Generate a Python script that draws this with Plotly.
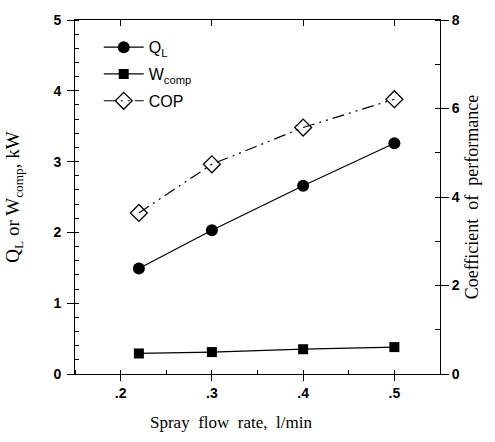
import plotly.graph_objects as go

flow_rate = [0.22, 0.3, 0.4, 0.5]
q_l = [1.49, 2.03, 2.66, 3.26]
w_comp = [0.29, 0.31, 0.35, 0.38]
cop = [3.64, 4.74, 5.57, 6.21]

x_tickvals = [0.2, 0.3, 0.4, 0.5]
x_ticktext = ['.2', '.3', '.4', '.5']

serif = "Liberation Serif, Times New Roman, serif"
sans = "Liberation Sans, Arial, sans-serif"

fig = go.Figure()
fig.add_trace(go.Scatter(
    x=flow_rate, y=q_l, name="Q<sub>L</sub>", mode="lines+markers",
    line=dict(color="black", width=1.2),
    marker=dict(symbol="circle", size=12, color="black"),
    legendgroup="a"))
fig.add_trace(go.Scatter(
    x=flow_rate, y=w_comp, name="W<sub>comp</sub>", mode="lines+markers",
    line=dict(color="black", width=1.2),
    marker=dict(symbol="square", size=10, color="black"),
    legendgroup="b"))
fig.add_trace(go.Scatter(
    x=flow_rate, y=cop, name="COP", mode="lines+markers", yaxis="y2",
    line=dict(color="black", width=1.2, dash="12px,5px,2px,5px,2px,5px"),
    marker=dict(symbol="diamond-open", size=13, color="black", line=dict(width=1.3)),
    legendgroup="c"))
# empty helper trace so the top mirrored axis is drawn
fig.add_trace(go.Scatter(x=[None], y=[None], xaxis="x2", showlegend=False, hoverinfo="skip"))

fig.update_layout(
    width=495, height=442,
    margin=dict(l=72, r=55, t=19, b=68),
    paper_bgcolor="white", plot_bgcolor="white",
    showlegend=True,
    legend=dict(x=0.065, y=0.971, xanchor="left", yanchor="top",
                font=dict(family=sans, size=16, color="black"),
                itemwidth=40,
                bgcolor="rgba(0,0,0,0)", traceorder="grouped", tracegroupgap=3),
    xaxis=dict(range=[0.15, 0.55], tickvals=x_tickvals, ticktext=x_ticktext,
               ticks="outside", ticklen=6, tickcolor="black",
               minor=dict(dtick=0.05, tick0=0.2, ticks="inside", ticklen=4, tickcolor="black"),
               showline=True, linecolor="black", linewidth=1, showgrid=False, zeroline=False,
               tickfont=dict(family=sans, size=14, color="black", weight="bold")),
    xaxis2=dict(range=[0.15, 0.55], overlaying="x", side="top", anchor="y",
                tickvals=x_tickvals, ticks="inside", ticklen=6, tickcolor="black",
                showticklabels=False, showline=True, linecolor="black", linewidth=1,
                showgrid=False, zeroline=False),
    yaxis=dict(range=[0, 5], dtick=1, ticks="outside", ticklen=7, tickcolor="black",
               minor=dict(dtick=0.2, ticks="inside", ticklen=4, tickcolor="black"),
               showline=True, linecolor="black", linewidth=1, showgrid=False, zeroline=False,
               ticklabelstandoff=3,
               tickfont=dict(family=sans, size=14, color="black", weight="bold"),
               title=dict(text="Q<sub>L</sub> or W<sub>comp</sub>, kW", font=dict(family=serif, size=19, color="black"), standoff=28)),
    yaxis2=dict(range=[0, 8], dtick=2, overlaying="y", side="right", anchor="x",
                ticks="outside", ticklen=8, tickcolor="black",
                minor=dict(dtick=1, ticks="inside", ticklen=5, tickcolor="black"),
                showline=True, linecolor="black", linewidth=1, showgrid=False, zeroline=False,
                tickfont=dict(family=sans, size=14, color="black", weight="bold"),
                title=dict(text="Coefficient  of  performance", font=dict(family=serif, size=18, color="black"), standoff=6)),
    annotations=[dict(text="Spray  flow  rate,  l/min", xref="paper", yref="paper",
                      x=(229 - 72) / 368, y=(374 - 423) / 355, xanchor="center", yanchor="middle",
                      showarrow=False, font=dict(family=serif, size=17, color="black"))],
)

fig.write_html("out.html", config={"displayModeBar": False},
               post_script="document.body.style.margin='0';")
